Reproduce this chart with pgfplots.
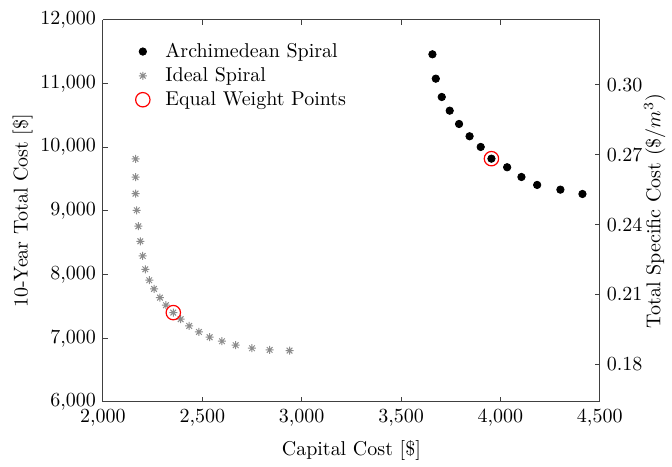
\documentclass[border=0pt]{standalone}
\usepackage{pgfplots}
\pgfplotsset{compat=1.18}
\definecolor{axgray}{HTML}{404040}
\definecolor{spgray}{HTML}{8C8C8C}

% MATLAB-style asterisk: a plus and a cross on top of each other
\pgfdeclareplotmark{matstar}{%
  \pgfpathmoveto{\pgfqpoint{-\pgfplotmarksize}{0pt}}%
  \pgfpathlineto{\pgfqpoint{\pgfplotmarksize}{0pt}}%
  \pgfpathmoveto{\pgfqpoint{0pt}{-\pgfplotmarksize}}%
  \pgfpathlineto{\pgfqpoint{0pt}{\pgfplotmarksize}}%
  \pgfpathmoveto{\pgfqpoint{-0.707\pgfplotmarksize}{-0.707\pgfplotmarksize}}%
  \pgfpathlineto{\pgfqpoint{0.707\pgfplotmarksize}{0.707\pgfplotmarksize}}%
  \pgfpathmoveto{\pgfqpoint{-0.707\pgfplotmarksize}{0.707\pgfplotmarksize}}%
  \pgfpathlineto{\pgfqpoint{0.707\pgfplotmarksize}{-0.707\pgfplotmarksize}}%
  \pgfusepathqstroke}

\begin{document}
\begin{tikzpicture}
\pgfplotsset{
  every axis/.append style={
    scale only axis, width=248.5pt, height=191pt,
    tick align=inside, major tick length=2.5pt,
    axis line style={draw=axgray, line width=0.5pt},
    every tick/.style={draw=axgray, line width=0.5pt},
    /pgf/number format/assume math mode=true,
  }
}
\begin{axis}[
  xmin=2000, xmax=4500, ymin=6000, ymax=12000,
  xtick={2000,2500,3000,3500,4000,4500},
  ytick={6000,7000,8000,9000,10000,11000,12000},
  scaled x ticks=false, scaled y ticks=false,
  axis y line*=left,
  /pgf/number format/fixed,
  /pgf/number format/1000 sep={,},
  xlabel={Capital Cost [\$]},
  ylabel={10-Year Total Cost [\$]},
  ylabel shift=-3pt,
  legend style={at={(axis description cs:0.034,0.962)}, anchor=north west,
    draw=none, fill=none, row sep=-0.5pt},
  legend cell align=left,
  legend image code/.code={\path (0pt,0pt) (17pt,0pt);
    \draw[#1] plot coordinates {(8pt,0pt)};},
]
\addplot[only marks, mark=*, mark size=1.85pt, black] coordinates {
  (3658,11461) (3675,11078) (3705,10790) (3745,10575) (3792,10366)
  (3845,10173) (3901,10005) (3955,9821) (4034,9686) (4106,9533)
  (4185,9408) (4302,9334) (4413,9266)
};
\addlegendentry{Archimedean Spiral}
\addplot[only marks, mark=matstar, mark size=2pt, spgray, line width=0.5pt] coordinates {
  (2164,9816) (2164,9529) (2164,9271) (2170,9010) (2178,8759)
  (2188,8523) (2200,8292) (2213,8083) (2233,7911) (2257,7774)
  (2287,7637) (2317,7518) (2354,7402) (2391,7298) (2434,7193)
  (2483,7098) (2537,7015) (2599,6952) (2668,6890) (2750,6842)
  (2839,6816) (2939,6805)
};
\addlegendentry{Ideal Spiral}
\addplot[only marks, mark=o, mark size=3.6pt, red, line width=0.6pt] coordinates {
  (3955,9821) (2354,7402)
};
\addlegendentry{Equal Weight Points}
\end{axis}
\begin{axis}[
  axis x line=none, axis y line*=right,
  xmin=2000, xmax=4500,
  ymin=0.16393, ymax=0.32787,
  ytick={0.18,0.21,0.24,0.27,0.30},
  /pgf/number format/fixed,
  /pgf/number format/fixed zerofill,
  /pgf/number format/precision=2,
  ylabel={Total Specific Cost ($\$/m^3$)},
  ylabel shift=-6pt,
]
\end{axis}
\path ([shift={(-51.5pt,-26.5pt)}]current axis.south west)
      ([shift={(36pt,10pt)}]current axis.north east);
\end{tikzpicture}
\end{document}
